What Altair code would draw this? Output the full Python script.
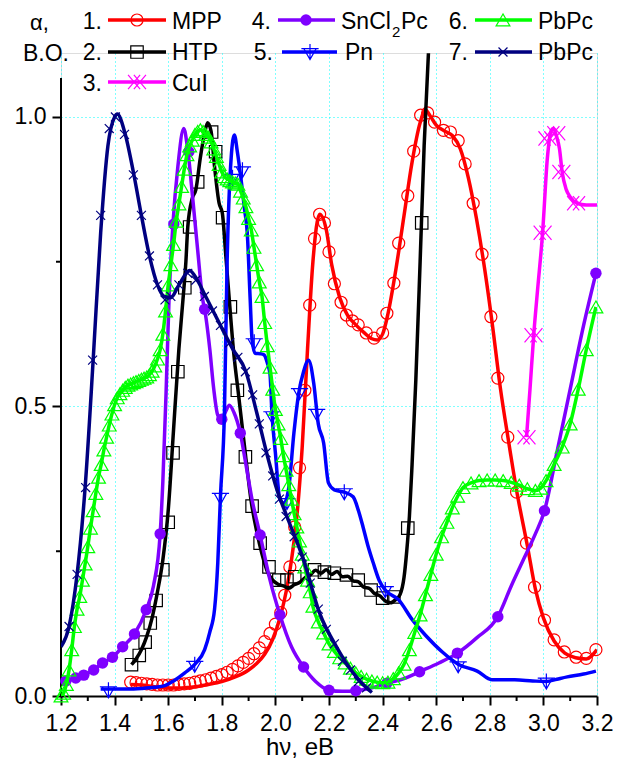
import altair as alt
import pandas as pd

# ---------------- data ----------------
# 1. MPP (red, open circles)
mpp_lx = [1.46, 1.50, 1.55, 1.60, 1.65, 1.70, 1.75, 1.80, 1.85, 1.90, 1.93, 1.96, 1.99, 2.02, 2.04, 2.06, 2.08, 2.10,
          2.12, 2.14, 2.165, 2.19, 2.21, 2.24, 2.27, 2.30, 2.33, 2.36, 2.38, 2.40, 2.42, 2.45, 2.48, 2.51, 2.54, 2.56,
          2.58, 2.60, 2.63, 2.66, 2.69, 2.72, 2.75, 2.78, 2.81, 2.84, 2.87, 2.90, 2.94, 2.97, 3.00, 3.04, 3.08, 3.12,
          3.16, 3.20]
mpp_ly = [0.020, 0.019, 0.016, 0.014, 0.014, 0.016, 0.020, 0.025, 0.033, 0.045, 0.056, 0.072, 0.098, 0.140, 0.180,
          0.235, 0.310, 0.430, 0.600, 0.750, 0.832, 0.805, 0.745, 0.688, 0.657, 0.641, 0.628, 0.617, 0.615, 0.625,
          0.660, 0.738, 0.830, 0.922, 0.990, 1.012, 1.000, 0.986, 0.976, 0.968, 0.945, 0.895, 0.825, 0.740, 0.640,
          0.530, 0.440, 0.355, 0.260, 0.185, 0.135, 0.095, 0.074, 0.066, 0.064, 0.080]
mpp_mx = [1.46, 1.48, 1.50, 1.52, 1.54, 1.56, 1.58, 1.60, 1.62, 1.64, 1.66, 1.68, 1.70, 1.72, 1.74, 1.76, 1.78, 1.80,
          1.82, 1.84, 1.86, 1.88, 1.90, 1.92, 1.94, 1.96, 1.98, 2.00, 2.02, 2.035, 2.054, 2.072, 2.09, 2.11, 2.128,
          2.146, 2.165, 2.183, 2.20, 2.22, 2.245, 2.265, 2.287, 2.309, 2.339, 2.368, 2.40, 2.416, 2.442, 2.46, 2.494,
          2.516, 2.542, 2.568, 2.594, 2.627, 2.653, 2.682, 2.708, 2.738, 2.771, 2.804, 2.83, 2.867, 2.90, 2.937,
          2.967, 3.004, 3.04, 3.078, 3.122, 3.16, 3.196]
mpp_my = [0.024, 0.023, 0.022, 0.021, 0.020, 0.019, 0.019, 0.019, 0.019, 0.020, 0.021, 0.022, 0.024, 0.026, 0.028,
          0.031, 0.034, 0.037, 0.041, 0.046, 0.052, 0.058, 0.065, 0.073, 0.083, 0.094, 0.108, 0.124, 0.144, 0.174,
          0.223, 0.292, 0.394, 0.528, 0.675, 0.790, 0.832, 0.817, 0.767, 0.712, 0.680, 0.658, 0.648, 0.641, 0.627,
          0.618, 0.627, 0.661, 0.713, 0.782, 0.864, 0.941, 1.003, 1.007, 0.991, 0.977, 0.974, 0.959, 0.919, 0.851,
          0.763, 0.655, 0.549, 0.447, 0.352, 0.264, 0.188, 0.131, 0.097, 0.076, 0.067, 0.065, 0.080]

# 2. HTP (black, open squares)
htp_lx = [1.463, 1.48, 1.50, 1.52, 1.54, 1.56, 1.58, 1.60, 1.62, 1.64, 1.655, 1.666, 1.673, 1.69, 1.703, 1.72, 1.736,
          1.747, 1.76, 1.773, 1.79, 1.802, 1.815, 1.828, 1.845, 1.86, 1.875, 1.89, 1.91, 1.93, 1.95, 1.97, 1.99, 2.01,
          2.03, 2.05, 2.07, 2.09, 2.11, 2.13, 2.15, 2.17, 2.19, 2.21, 2.23, 2.25, 2.27, 2.29, 2.31, 2.33, 2.35, 2.37,
          2.39, 2.41, 2.43, 2.45, 2.465, 2.48, 2.49, 2.50, 2.51, 2.524, 2.54, 2.555, 2.571]
htp_ly = [0.054, 0.064, 0.080, 0.103, 0.135, 0.180, 0.235, 0.320, 0.460, 0.600, 0.684, 0.750, 0.810, 0.860, 0.874,
          0.930, 0.972, 0.990, 0.975, 0.914, 0.851, 0.834, 0.760, 0.684, 0.590, 0.530, 0.470, 0.410, 0.335, 0.285,
          0.245, 0.215, 0.200, 0.193, 0.190, 0.186, 0.192, 0.196, 0.204, 0.209, 0.217, 0.212, 0.218, 0.210, 0.215,
          0.206, 0.207, 0.199, 0.197, 0.188, 0.186, 0.177, 0.173, 0.164, 0.161, 0.167, 0.175, 0.205, 0.250, 0.310,
          0.400, 0.546, 0.750, 0.950, 1.110]
htp_mx = [1.463, 1.492, 1.514, 1.533, 1.555, 1.58, 1.60, 1.618, 1.636, 1.662, 1.68, 1.71, 1.762, 1.777, 1.803, 1.832,
          1.858, 1.888, 1.913, 1.943, 1.976, 2.013, 2.043, 2.072, 2.146, 2.183, 2.22, 2.265, 2.309, 2.357, 2.40,
          2.442, 2.494, 2.546]
htp_my = [0.054, 0.070, 0.093, 0.126, 0.165, 0.218, 0.300, 0.420, 0.560, 0.705, 0.810, 0.888, 0.974, 0.940, 0.826,
          0.672, 0.528, 0.413, 0.328, 0.264, 0.223, 0.200, 0.200, 0.206, 0.218, 0.214, 0.212, 0.209, 0.200, 0.183,
          0.169, 0.171, 0.290, 0.817]

# 3. CuI (magenta, double crosses)
cui_lx = [2.937, 2.95, 2.965, 2.978, 2.997, 3.015, 3.028, 3.037, 3.05, 3.06, 3.07, 3.085, 3.10, 3.126, 3.16, 3.20]
cui_ly = [0.447, 0.530, 0.630, 0.700, 0.800, 0.930, 0.975, 0.980, 0.965, 0.945, 0.905, 0.875, 0.862, 0.851, 0.848,
          0.848]
cui_mx = [2.937, 2.963, 2.997, 3.015, 3.048, 3.067, 3.122]
cui_my = [0.447, 0.623, 0.800, 0.963, 0.972, 0.905, 0.851]

# 4. SnCl2Pc (violet, filled circles)
sn_lx = [1.20, 1.218, 1.255, 1.285, 1.322, 1.355, 1.392, 1.43, 1.474, 1.518, 1.545, 1.57, 1.58, 1.592, 1.603, 1.618,
         1.636, 1.658, 1.673, 1.692, 1.71, 1.729, 1.736, 1.755, 1.77, 1.785, 1.80, 1.815, 1.828, 1.845, 1.869, 1.89,
         1.913, 1.943, 1.98, 2.017, 2.06, 2.105, 2.15, 2.20, 2.25, 2.30, 2.36, 2.416, 2.48, 2.538, 2.61, 2.679, 2.75,
         2.83, 2.88, 2.93, 2.97, 3.004, 3.05, 3.10, 3.15, 3.196]
sn_ly = [0.026, 0.026, 0.031, 0.036, 0.045, 0.057, 0.067, 0.085, 0.107, 0.149, 0.190, 0.280, 0.370, 0.523, 0.684,
         0.817, 0.914, 0.980, 0.943, 0.857, 0.770, 0.684, 0.668, 0.600, 0.530, 0.485, 0.478, 0.492, 0.502, 0.490,
         0.454, 0.400, 0.339, 0.278, 0.200, 0.140, 0.085, 0.050, 0.025, 0.010, 0.008, 0.009, 0.014, 0.022, 0.030,
         0.042, 0.057, 0.074, 0.100, 0.137, 0.190, 0.240, 0.280, 0.320, 0.420, 0.530, 0.640, 0.730]
sn_mx = [1.218, 1.255, 1.285, 1.322, 1.355, 1.392, 1.43, 1.474, 1.518, 1.57, 1.621, 1.677, 1.736, 1.80, 1.869, 1.943,
         2.017, 2.105, 2.20, 2.30, 2.416, 2.538, 2.679, 2.83, 3.004, 3.196]
sn_my = [0.026, 0.031, 0.036, 0.045, 0.057, 0.067, 0.085, 0.107, 0.149, 0.280, 0.815, 0.940, 0.668, 0.478, 0.454,
         0.278, 0.140, 0.050, 0.010, 0.009, 0.022, 0.042, 0.074, 0.137, 0.320, 0.730]

# 5. Pn (blue, down triangles)
pn_lx = [1.348, 1.40, 1.45, 1.50, 1.55, 1.588, 1.62, 1.662, 1.70, 1.736, 1.755, 1.773, 1.785, 1.795, 1.81, 1.82,
         1.835, 1.847, 1.858, 1.869, 1.885, 1.895, 1.906, 1.913, 1.924, 1.945, 1.958, 1.97, 1.98, 1.987, 2.00, 2.017,
         2.032, 2.05, 2.069, 2.087, 2.105, 2.124, 2.143, 2.16, 2.18, 2.198, 2.22, 2.257, 2.29, 2.31, 2.327, 2.345,
         2.365, 2.387, 2.41, 2.46, 2.512, 2.56, 2.623, 2.682, 2.753, 2.808, 2.893, 2.96, 3.011, 3.05, 3.089, 3.15,
         3.196]
pn_ly = [0.012, 0.012, 0.012, 0.013, 0.015, 0.018, 0.026, 0.040, 0.055, 0.080, 0.110, 0.150, 0.230, 0.345, 0.494,
         0.753, 0.930, 0.969, 0.940, 0.903, 0.840, 0.800, 0.684, 0.615, 0.592, 0.591, 0.589, 0.575, 0.555, 0.489,
         0.420, 0.339, 0.333, 0.360, 0.454, 0.523, 0.560, 0.580, 0.540, 0.470, 0.437, 0.368, 0.356, 0.352, 0.344,
         0.320, 0.292, 0.260, 0.230, 0.200, 0.183, 0.166, 0.131, 0.105, 0.076, 0.055, 0.043, 0.028, 0.028, 0.026,
         0.025, 0.029, 0.033, 0.038, 0.043]
pn_mx = [1.377, 1.699, 1.795, 1.84, 1.877, 1.921, 1.987, 2.043, 2.09, 2.154, 2.257, 2.41, 2.682, 3.011]
pn_my = [0.010, 0.054, 0.344, 0.895, 0.908, 0.611, 0.485, 0.335, 0.525, 0.489, 0.352, 0.183, 0.053, 0.025]

# 6. PbPc (green, open triangles)
pb6_x = [1.20, 1.21, 1.22, 1.23, 1.24, 1.25, 1.26, 1.27, 1.28, 1.29, 1.30, 1.31, 1.32, 1.33, 1.34, 1.35, 1.36, 1.37,
         1.38, 1.39, 1.40, 1.41, 1.42, 1.43, 1.44, 1.45, 1.46, 1.47, 1.48, 1.49, 1.50, 1.51, 1.52, 1.53, 1.54, 1.55,
         1.56, 1.57, 1.58, 1.59, 1.60, 1.61, 1.62, 1.63, 1.64, 1.65, 1.66, 1.67, 1.68, 1.69, 1.70, 1.71, 1.72, 1.73,
         1.74, 1.75, 1.76, 1.77, 1.78, 1.79, 1.80, 1.81, 1.82, 1.83, 1.84, 1.85, 1.86, 1.87, 1.88, 1.89, 1.90, 1.91,
         1.92, 1.93, 1.94, 1.95, 1.96, 1.97, 1.98, 1.99, 2.00, 2.01, 2.02, 2.03, 2.04, 2.05, 2.06, 2.07, 2.08, 2.09,
         2.10, 2.11, 2.12, 2.13, 2.14, 2.16, 2.18, 2.20, 2.22, 2.24, 2.26, 2.28, 2.30, 2.32, 2.34, 2.36, 2.38, 2.40,
         2.42, 2.44, 2.46, 2.48, 2.50, 2.52, 2.54, 2.56, 2.58, 2.60, 2.62, 2.64, 2.66, 2.68, 2.70, 2.73, 2.76, 2.79,
         2.82, 2.85, 2.88, 2.91, 2.94, 2.97, 2.99, 3.01, 3.04, 3.07, 3.10, 3.13, 3.16, 3.196]
pb6_y = [0.000, 0.005, 0.020, 0.045, 0.080, 0.120, 0.150, 0.172, 0.200, 0.228, 0.258, 0.290, 0.320, 0.350, 0.378,
         0.400, 0.425, 0.447, 0.468, 0.487, 0.503, 0.515, 0.522, 0.528, 0.533, 0.537, 0.539, 0.541, 0.543, 0.545,
         0.547, 0.549, 0.551, 0.555, 0.561, 0.570, 0.582, 0.598, 0.625, 0.665, 0.710, 0.745, 0.780, 0.820, 0.850,
         0.880, 0.910, 0.935, 0.950, 0.960, 0.970, 0.975, 0.978, 0.975, 0.970, 0.965, 0.957, 0.945, 0.932, 0.918,
         0.905, 0.897, 0.893, 0.890, 0.888, 0.886, 0.884, 0.872, 0.860, 0.845, 0.825, 0.805, 0.775, 0.745, 0.715,
         0.690, 0.645, 0.605, 0.568, 0.530, 0.495, 0.470, 0.445, 0.415, 0.390, 0.365, 0.340, 0.315, 0.292, 0.268,
         0.245, 0.223, 0.200, 0.180, 0.155, 0.128, 0.109, 0.090, 0.077, 0.066, 0.057, 0.048, 0.040, 0.034, 0.029,
         0.026, 0.024, 0.023, 0.024, 0.030, 0.040, 0.055, 0.080, 0.110, 0.140, 0.175, 0.210, 0.245, 0.275, 0.300,
         0.325, 0.345, 0.360, 0.368, 0.372, 0.373, 0.373, 0.372, 0.369, 0.364, 0.358, 0.355, 0.359, 0.372, 0.400,
         0.430, 0.470, 0.530, 0.598, 0.672]

# 7. PbPc (navy, crosses)
pb7_lx = [1.20, 1.23, 1.26, 1.29, 1.32, 1.348, 1.375, 1.40, 1.41, 1.437, 1.47, 1.50, 1.53, 1.56, 1.585, 1.61, 1.64,
          1.68, 1.70, 1.74, 1.795, 1.84, 1.89, 1.93, 1.97, 2.006, 2.043, 2.105, 2.165, 2.228, 2.29, 2.34, 2.36]
pb7_ly = [0.085, 0.120, 0.210, 0.360, 0.580, 0.800, 0.950, 1.000, 1.005, 0.975, 0.905, 0.830, 0.760, 0.710, 0.690,
          0.688, 0.710, 0.735, 0.725, 0.690, 0.640, 0.600, 0.560, 0.490, 0.415, 0.356, 0.310, 0.235, 0.143, 0.085,
          0.040, 0.014, 0.006]
pb7_mx = [1.23, 1.26, 1.292, 1.318, 1.348, 1.38, 1.403, 1.437, 1.47, 1.50, 1.53, 1.56, 1.588, 1.61, 1.64, 1.673,
          1.703, 1.735, 1.765, 1.795, 1.83, 1.86, 1.888, 1.915, 1.94, 1.965, 1.99, 2.015, 2.04, 2.07, 2.10, 2.13,
          2.16, 2.19, 2.22, 2.25, 2.28, 2.31, 2.34]
pb7_my = [0.120, 0.210, 0.360, 0.580, 0.830, 0.980, 1.000, 0.970, 0.900, 0.830, 0.760, 0.710, 0.684, 0.690, 0.710,
          0.730, 0.718, 0.690, 0.665, 0.640, 0.610, 0.585, 0.560, 0.520, 0.470, 0.420, 0.380, 0.340, 0.310, 0.275,
          0.240, 0.195, 0.150, 0.115, 0.090, 0.060, 0.045, 0.025, 0.014]

x_ticks = [1.2, 1.4, 1.6, 1.8, 2.0, 2.2, 2.4, 2.6, 2.8, 3.0, 3.2]
x_minor = [1.3, 1.5, 1.7, 1.9, 2.1, 2.3, 2.5, 2.7, 2.9, 3.1]
y_ticks = [0.0, 0.5, 1.0]
y_minor = [0.25, 0.75]

# ---------------- styling ----------------
FONT = "Liberation Sans"
W, H = 536, 643
X_DOM = [1.2, 3.2]
Y_DOM = [0.0, 1.1105]
OX, OY = 61, 53  # page position of plot origin
LW = 3.5

XSHAPE = "M-1,-1L1,1M-1,1L1,-1"
DXSHAPE = "M-1,-0.8L0.35,0.8M-1,0.8L0.35,-0.8M-0.35,-0.8L1,0.8M-0.35,0.8L1,-0.8"
PNSHAPE = "M-0.9,-0.5L0.9,-0.5L0,1.1ZM-1.25,-0.5L1.25,-0.5M0,-1.15L0,1.1"

series = [
    dict(num="1.", name="MPP", color="#FF0000", lx=mpp_lx, ly=mpp_ly, mx=mpp_mx, my=mpp_my,
         shape="circle", filled=False, size=145, sw=1.2),
    dict(num="2.", name="HTP", color="#000000", lx=htp_lx, ly=htp_ly, mx=htp_mx, my=htp_my,
         shape="square", filled=False, size=155, sw=1.2),
    dict(num="3.", name="CuI", color="#FF00FF", lx=cui_lx, ly=cui_ly, mx=cui_mx, my=cui_my,
         shape=DXSHAPE, filled=False, size=320, sw=1.2),
    dict(num="4.", name="SnCl2Pc", color="#7F00FF", lx=sn_lx, ly=sn_ly, mx=sn_mx, my=sn_my,
         shape="circle", filled=True, size=130, sw=1.0),
    dict(num="5.", name="Pn", color="#0000FF", lx=pn_lx, ly=pn_ly, mx=pn_mx, my=pn_my,
         shape=PNSHAPE, filled=False, size=190, sw=1.2),
    dict(num="6.", name="PbPc", color="#00FF00", lx=pb6_x, ly=pb6_y, mx=pb6_x, my=pb6_y,
         shape="triangle-up", filled=False, size=190, sw=1.2),
    dict(num="7.", name="PbPc", color="#000080", lx=pb7_lx, ly=pb7_ly, mx=pb7_mx, my=pb7_my,
         shape=XSHAPE, filled=False, size=80, sw=1.2),
]

xaxis = alt.Axis(values=x_ticks, format=".1f", labelFont=FONT, labelFontSize=23, labelColor="black",
                 labelFlush=False, labelOverlap=False, labelPadding=7, tickSize=9, tickWidth=2,
                 tickColor="black", domainColor="black", domainWidth=2, grid=True, gridColor="#00FFFF",
                 gridDash=[1, 3], gridWidth=1, title=None)
yaxis = alt.Axis(values=y_ticks, format=".1f", labelFont=FONT, labelFontSize=23, labelColor="black",
                 labelPadding=6, tickSize=9, tickWidth=2, tickColor="black", domain=False, grid=True,
                 gridColor="#00FFFF", gridDash=[1, 3], gridWidth=1, title=None)
xs = alt.Scale(domain=X_DOM, nice=False, zero=False)
ys = alt.Scale(domain=Y_DOM, nice=False, zero=False)


def X():
    return alt.X("x:Q", scale=xs, axis=xaxis)


def Y():
    return alt.Y("y:Q", scale=ys, axis=yaxis)


one = pd.DataFrame({"a": [0]})
layers = []

# minor ticks and left axis line
layers.append(alt.Chart(pd.DataFrame({"x": x_minor})).mark_rule(color="black", strokeWidth=2).encode(
    x=X(), y=alt.value(H), y2=alt.value(H + 5)))
layers.append(alt.Chart(pd.DataFrame({"y": y_minor})).mark_rule(color="black", strokeWidth=2).encode(
    y=Y(), x=alt.value(0), x2=alt.value(-5)))
layers.append(alt.Chart(one).mark_rule(color="black", strokeWidth=2).encode(
    x=alt.value(0), y=alt.value(78 - OY), y2=alt.value(H)))

for s in series:
    ldf = pd.DataFrame({"x": s["lx"], "y": s["ly"]})
    mdf = pd.DataFrame({"x": s["mx"], "y": s["my"]})
    layers.append(alt.Chart(ldf).mark_line(color=s["color"], strokeWidth=LW, interpolate="monotone",
                                           clip=True).encode(x=X(), y=Y(), order="x:Q"))
    pt = dict(shape=s["shape"], size=s["size"], opacity=1, strokeWidth=s["sw"])
    if s["filled"]:
        mk = alt.Chart(mdf).mark_point(filled=True, color=s["color"], **pt)
    else:
        mk = alt.Chart(mdf).mark_point(filled=False, color=s["color"], **pt)
    layers.append(mk.encode(x=X(), y=Y()))

# ---------------- hand-made legend ----------------
def txt(text, px, py, size=23, align="left"):
    return alt.Chart(one).mark_text(text=text, font=FONT, fontSize=size, align=align, baseline="alphabetic",
                                    color="black").encode(x=alt.value(px - OX), y=alt.value(py - OY))


cols = [  # num right edge, line start, line end, marker, name start
    (102, 108, 166, 137, 172),
    (271, 278, 335, 306, 341),
    (468, 475, 532, 503, 538),
]
rows = [(29, 20), (60, 52), (91, 82)]  # text baseline, line y
placement = [(0, 0), (0, 1), (0, 2), (1, 0), (1, 1), (2, 0), (2, 1)]

for s, (c, r) in zip(series, placement):
    nr, l0, l1, mxp, nx = cols[c]
    if c == 1 and r == 1:
        nr, l0, l1, mxp, nx = nr + 2, l0 + 4, l1 + 2, mxp + 4, nx + 4
    tb, ly = rows[r]
    layers.append(txt(s["num"], nr, tb, align="right"))
    layers.append(alt.Chart(one).mark_rule(color=s["color"], strokeWidth=LW).encode(
        x=alt.value(l0 - OX), x2=alt.value(l1 - OX), y=alt.value(ly - OY)))
    layers.append(alt.Chart(one).mark_point(shape=s["shape"], size=s["size"], filled=s["filled"],
                                            color=s["color"], opacity=1, strokeWidth=s["sw"]).encode(
        x=alt.value(mxp - OX), y=alt.value(ly - OY)))
    if s["name"] == "SnCl2Pc":
        layers.append(txt("SnCl", nx, tb))
        layers.append(txt("2", nx + 51, tb + 8, size=15))
        layers.append(txt("Pc", nx + 60, tb))
    else:
        layers.append(txt(s["name"], nx, tb))

# axis captions
layers.append(txt("\u03b1,", 30, 30, size=22))
layers.append(txt("B.O.", 23, 61))
layers.append(alt.Chart(one).mark_text(text="h\u03bd, eB", font=FONT, fontSize=24, align="center",
                                       baseline="alphabetic", color="black").encode(
    x=alt.value(300 - OX), y=alt.value(755 - OY)))

chart = alt.layer(*layers).properties(
    width=W, height=H,
    padding={"left": OX - 8, "top": OY - 8, "right": 16, "bottom": 64},
    autosize=alt.AutoSizeParams(type="none"),
).configure_view(stroke=None).configure(background="white")

chart.save("out.html", embed_options={"renderer": "svg", "actions": False})
